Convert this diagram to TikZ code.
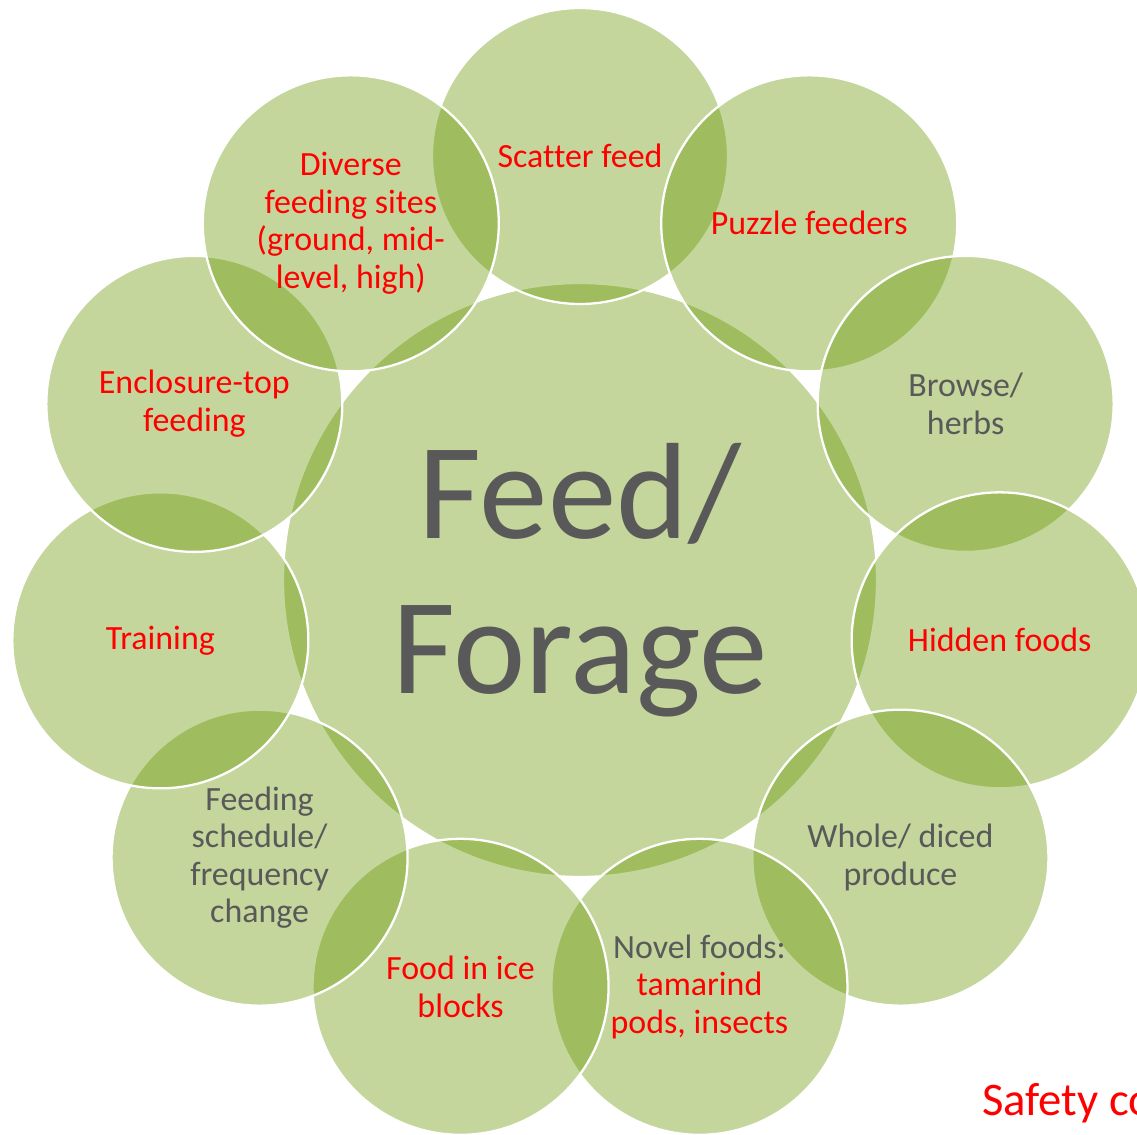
\documentclass[tikz,border=0pt]{standalone}
\usepackage{fontspec}
\setmainfont[Ligatures=NoCommon]{Carlito}
\definecolor{discgreen}{RGB}{102,150,0}
\definecolor{labelgray}{RGB}{89,89,89}
\definecolor{labelred}{RGB}{255,0,0}

\begin{document}
\begin{tikzpicture}[
main disc/.style={circle,minimum size=11.88cm,inner sep=0,outer sep=0,
                  fill=discgreen,fill opacity=0.39,text opacity=1,draw=white,line width=1.3pt},
outer disc/.style={main disc,minimum size=5.92cm,align=center,
                  font=\fontsize{19.3}{21.4}\selectfont}]
\useasboundingbox (0,0) rectangle (22.74,-22.68);
\node[main disc,text=labelgray,align=center,font=\fontsize{78}{88}\selectfont] (feed) at (11.6,-11.6) {Feed/\\Forage};
%==================
\foreach \txt/\col [count=\i from 0] in {
    {Scatter feed}/labelred,
    {Puzzle feeders}/labelred,
    {Browse/\\herbs}/labelgray,
    {Hidden foods}/labelred,
    {Whole/ diced\\produce}/labelgray,
    {\textcolor{labelgray}{Novel foods:}\\tamarind\\pods, insects}/labelred,
    {Food in ice\\blocks}/labelred,
    {Feeding\\schedule/\\frequency\\change}/labelgray,
    {Training}/labelred,
    {Enclosure-top\\feeding}/labelred,
    {Diverse\\feeding sites\\(ground, mid-\\level, high)}/labelred}{
\pgfmathsetmacro{\ang}{90-\i*360/11}
\node[outer disc,text=\col] (o\i) at ([shift={(\ang:8.48)}]feed.center) {\txt};
}
% ===================
\node[font=\fontsize{26.6}{30}\selectfont,text=labelred,anchor=base west] (safety) at (19.52,-22.30) {Safety co};
\end{tikzpicture}
\end{document}
